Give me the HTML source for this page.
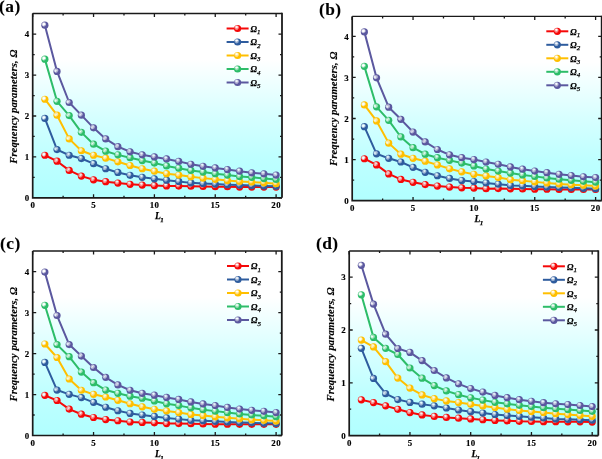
<!DOCTYPE html>
<html><head><meta charset="utf-8"><title>Frequency parameters</title>
<style>
html,body{margin:0;padding:0;background:#fff;width:602px;height:459px;overflow:hidden}
svg{display:block;will-change:transform}
text{font-family:"Liberation Serif", serif;fill:#000;stroke:#000;stroke-width:0.25px}
.tl{font-size:8.9px;font-weight:bold;letter-spacing:0.4px;stroke-width:0.15px}
.at{font-size:10.7px;font-weight:bold;font-style:italic;stroke-width:0.15px;letter-spacing:0.07px}
.xt{font-size:9.5px;font-weight:bold;font-style:italic}
.sub{font-size:7px}
.pl{font-size:17.4px;font-weight:bold;stroke-width:0.1px;letter-spacing:0.45px}
.lg{font-size:8.7px;font-weight:bold;font-style:italic}
.lsub{font-size:7px;font-weight:normal;stroke-width:0.25px}
</style></head>
<body>
<svg width="602" height="459" viewBox="0 0 602 459">
<defs>
<linearGradient id="bg" x1="0" y1="0" x2="0" y2="1">
<stop offset="0" stop-color="#ffffff"/>
<stop offset="0.25" stop-color="#ffffff"/>
<stop offset="0.55" stop-color="#d7ffff"/>
<stop offset="0.78" stop-color="#beffff"/>
<stop offset="1" stop-color="#b1ffff"/>
</linearGradient>
<radialGradient id="gr" cx="0.37" cy="0.38" r="0.36" fx="0.37" fy="0.38"><stop offset="0" stop-color="#ffffff" stop-opacity="0.95"/><stop offset="0.35" stop-color="#ffffff" stop-opacity="0.6"/><stop offset="1" stop-color="#f50808"/><stop offset="1" stop-color="#f50808"/></radialGradient>
<radialGradient id="gb" cx="0.37" cy="0.38" r="0.36" fx="0.37" fy="0.38"><stop offset="0" stop-color="#ffffff" stop-opacity="0.95"/><stop offset="0.35" stop-color="#ffffff" stop-opacity="0.6"/><stop offset="1" stop-color="#2e5c9e"/><stop offset="1" stop-color="#2e5c9e"/></radialGradient>
<radialGradient id="gy" cx="0.37" cy="0.38" r="0.36" fx="0.37" fy="0.38"><stop offset="0" stop-color="#ffffff" stop-opacity="0.95"/><stop offset="0.35" stop-color="#ffffff" stop-opacity="0.6"/><stop offset="1" stop-color="#ffbf00"/><stop offset="1" stop-color="#ffbf00"/></radialGradient>
<radialGradient id="gg" cx="0.37" cy="0.38" r="0.36" fx="0.37" fy="0.38"><stop offset="0" stop-color="#ffffff" stop-opacity="0.95"/><stop offset="0.35" stop-color="#ffffff" stop-opacity="0.6"/><stop offset="1" stop-color="#2dbd69"/><stop offset="1" stop-color="#2dbd69"/></radialGradient>
<radialGradient id="gp" cx="0.37" cy="0.38" r="0.36" fx="0.37" fy="0.38"><stop offset="0" stop-color="#ffffff" stop-opacity="0.95"/><stop offset="0.35" stop-color="#ffffff" stop-opacity="0.6"/><stop offset="1" stop-color="#5b589f"/><stop offset="1" stop-color="#5b589f"/></radialGradient>
</defs>
<rect width="602" height="459" fill="#ffffff"/>
<rect x="32.7" y="13.5" width="249.3" height="184.3" fill="url(#bg)"/>
<path d="M44.87,155.26 L57.04,161.19 L69.21,170.4 L81.38,176.12 L93.55,179.8 L105.72,181.64 L117.89,183.08 L130.06,184.3 L142.23,185.12 L154.4,185.53 L166.57,185.94 L178.74,186.06 L190.91,186.27 L203.08,186.47 L215.25,186.68 L227.42,186.68 L239.59,187.08 L251.76,187.08 L263.93,187.08 L276.1,187.08" fill="none" stroke="#f50808" stroke-width="2" stroke-linejoin="round"/>
<circle cx="44.87" cy="155.26" r="3.6" fill="url(#gr)"/>
<circle cx="57.04" cy="161.19" r="3.6" fill="url(#gr)"/>
<circle cx="69.21" cy="170.4" r="3.6" fill="url(#gr)"/>
<circle cx="81.38" cy="176.12" r="3.6" fill="url(#gr)"/>
<circle cx="93.55" cy="179.8" r="3.6" fill="url(#gr)"/>
<circle cx="105.72" cy="181.64" r="3.6" fill="url(#gr)"/>
<circle cx="117.89" cy="183.08" r="3.6" fill="url(#gr)"/>
<circle cx="130.06" cy="184.3" r="3.6" fill="url(#gr)"/>
<circle cx="142.23" cy="185.12" r="3.6" fill="url(#gr)"/>
<circle cx="154.4" cy="185.53" r="3.6" fill="url(#gr)"/>
<circle cx="166.57" cy="185.94" r="3.6" fill="url(#gr)"/>
<circle cx="178.74" cy="186.06" r="3.6" fill="url(#gr)"/>
<circle cx="190.91" cy="186.27" r="3.6" fill="url(#gr)"/>
<circle cx="203.08" cy="186.47" r="3.6" fill="url(#gr)"/>
<circle cx="215.25" cy="186.68" r="3.6" fill="url(#gr)"/>
<circle cx="227.42" cy="186.68" r="3.6" fill="url(#gr)"/>
<circle cx="239.59" cy="187.08" r="3.6" fill="url(#gr)"/>
<circle cx="251.76" cy="187.08" r="3.6" fill="url(#gr)"/>
<circle cx="263.93" cy="187.08" r="3.6" fill="url(#gr)"/>
<circle cx="276.1" cy="187.08" r="3.6" fill="url(#gr)"/>
<path d="M44.87,118.45 L57.04,149.54 L69.21,155.26 L81.38,158.54 L93.55,163.65 L105.72,168.76 L117.89,172.44 L130.06,175.31 L142.23,177.35 L154.4,178.78 L166.57,180.21 L178.74,181.44 L190.91,182.87 L203.08,183.49 L215.25,184.1 L227.42,184.71 L239.59,185.12 L251.76,185.53 L263.93,185.94 L276.1,186.14" fill="none" stroke="#2e5c9e" stroke-width="2" stroke-linejoin="round"/>
<circle cx="44.87" cy="118.45" r="3.6" fill="url(#gb)"/>
<circle cx="57.04" cy="149.54" r="3.6" fill="url(#gb)"/>
<circle cx="69.21" cy="155.26" r="3.6" fill="url(#gb)"/>
<circle cx="81.38" cy="158.54" r="3.6" fill="url(#gb)"/>
<circle cx="93.55" cy="163.65" r="3.6" fill="url(#gb)"/>
<circle cx="105.72" cy="168.76" r="3.6" fill="url(#gb)"/>
<circle cx="117.89" cy="172.44" r="3.6" fill="url(#gb)"/>
<circle cx="130.06" cy="175.31" r="3.6" fill="url(#gb)"/>
<circle cx="142.23" cy="177.35" r="3.6" fill="url(#gb)"/>
<circle cx="154.4" cy="178.78" r="3.6" fill="url(#gb)"/>
<circle cx="166.57" cy="180.21" r="3.6" fill="url(#gb)"/>
<circle cx="178.74" cy="181.44" r="3.6" fill="url(#gb)"/>
<circle cx="190.91" cy="182.87" r="3.6" fill="url(#gb)"/>
<circle cx="203.08" cy="183.49" r="3.6" fill="url(#gb)"/>
<circle cx="215.25" cy="184.1" r="3.6" fill="url(#gb)"/>
<circle cx="227.42" cy="184.71" r="3.6" fill="url(#gb)"/>
<circle cx="239.59" cy="185.12" r="3.6" fill="url(#gb)"/>
<circle cx="251.76" cy="185.53" r="3.6" fill="url(#gb)"/>
<circle cx="263.93" cy="185.94" r="3.6" fill="url(#gb)"/>
<circle cx="276.1" cy="186.14" r="3.6" fill="url(#gb)"/>
<path d="M44.87,99.23 L57.04,115.18 L69.21,138.9 L81.38,150.77 L93.55,155.26 L105.72,158.13 L117.89,161.81 L130.06,165.49 L142.23,168.76 L154.4,171.22 L166.57,173.67 L178.74,175.1 L190.91,176.74 L203.08,178.13 L215.25,179.35 L227.42,180.58 L239.59,181.4 L251.76,182.01 L263.93,182.83 L276.1,183.65" fill="none" stroke="#ffbf00" stroke-width="2" stroke-linejoin="round"/>
<circle cx="44.87" cy="99.23" r="3.6" fill="url(#gy)"/>
<circle cx="57.04" cy="115.18" r="3.6" fill="url(#gy)"/>
<circle cx="69.21" cy="138.9" r="3.6" fill="url(#gy)"/>
<circle cx="81.38" cy="150.77" r="3.6" fill="url(#gy)"/>
<circle cx="93.55" cy="155.26" r="3.6" fill="url(#gy)"/>
<circle cx="105.72" cy="158.13" r="3.6" fill="url(#gy)"/>
<circle cx="117.89" cy="161.81" r="3.6" fill="url(#gy)"/>
<circle cx="130.06" cy="165.49" r="3.6" fill="url(#gy)"/>
<circle cx="142.23" cy="168.76" r="3.6" fill="url(#gy)"/>
<circle cx="154.4" cy="171.22" r="3.6" fill="url(#gy)"/>
<circle cx="166.57" cy="173.67" r="3.6" fill="url(#gy)"/>
<circle cx="178.74" cy="175.1" r="3.6" fill="url(#gy)"/>
<circle cx="190.91" cy="176.74" r="3.6" fill="url(#gy)"/>
<circle cx="203.08" cy="178.13" r="3.6" fill="url(#gy)"/>
<circle cx="215.25" cy="179.35" r="3.6" fill="url(#gy)"/>
<circle cx="227.42" cy="180.58" r="3.6" fill="url(#gy)"/>
<circle cx="239.59" cy="181.4" r="3.6" fill="url(#gy)"/>
<circle cx="251.76" cy="182.01" r="3.6" fill="url(#gy)"/>
<circle cx="263.93" cy="182.83" r="3.6" fill="url(#gy)"/>
<circle cx="276.1" cy="183.65" r="3.6" fill="url(#gy)"/>
<path d="M44.87,59.15 L57.04,101.28 L69.21,115.59 L81.38,132.36 L93.55,144.22 L105.72,151.17 L117.89,154.86 L130.06,157.72 L142.23,160.58 L154.4,163.04 L166.57,165.9 L178.74,168.15 L190.91,170.4 L203.08,172.03 L215.25,173.67 L227.42,175.1 L239.59,176.53 L251.76,177.35 L263.93,178.58 L276.1,179.4" fill="none" stroke="#2dbd69" stroke-width="2" stroke-linejoin="round"/>
<circle cx="44.87" cy="59.15" r="3.6" fill="url(#gg)"/>
<circle cx="57.04" cy="101.28" r="3.6" fill="url(#gg)"/>
<circle cx="69.21" cy="115.59" r="3.6" fill="url(#gg)"/>
<circle cx="81.38" cy="132.36" r="3.6" fill="url(#gg)"/>
<circle cx="93.55" cy="144.22" r="3.6" fill="url(#gg)"/>
<circle cx="105.72" cy="151.17" r="3.6" fill="url(#gg)"/>
<circle cx="117.89" cy="154.86" r="3.6" fill="url(#gg)"/>
<circle cx="130.06" cy="157.72" r="3.6" fill="url(#gg)"/>
<circle cx="142.23" cy="160.58" r="3.6" fill="url(#gg)"/>
<circle cx="154.4" cy="163.04" r="3.6" fill="url(#gg)"/>
<circle cx="166.57" cy="165.9" r="3.6" fill="url(#gg)"/>
<circle cx="178.74" cy="168.15" r="3.6" fill="url(#gg)"/>
<circle cx="190.91" cy="170.4" r="3.6" fill="url(#gg)"/>
<circle cx="203.08" cy="172.03" r="3.6" fill="url(#gg)"/>
<circle cx="215.25" cy="173.67" r="3.6" fill="url(#gg)"/>
<circle cx="227.42" cy="175.1" r="3.6" fill="url(#gg)"/>
<circle cx="239.59" cy="176.53" r="3.6" fill="url(#gg)"/>
<circle cx="251.76" cy="177.35" r="3.6" fill="url(#gg)"/>
<circle cx="263.93" cy="178.58" r="3.6" fill="url(#gg)"/>
<circle cx="276.1" cy="179.4" r="3.6" fill="url(#gg)"/>
<path d="M44.87,25.2 L57.04,71.42 L69.21,102.5 L81.38,115.18 L93.55,127.86 L105.72,138.9 L117.89,146.68 L130.06,151.79 L142.23,154.86 L154.4,156.9 L166.57,158.95 L178.74,161.4 L190.91,164.26 L203.08,166.31 L215.25,167.94 L227.42,169.58 L239.59,171.22 L251.76,172.85 L263.93,173.87 L276.1,175.1" fill="none" stroke="#5b589f" stroke-width="2" stroke-linejoin="round"/>
<circle cx="44.87" cy="25.2" r="3.6" fill="url(#gp)"/>
<circle cx="57.04" cy="71.42" r="3.6" fill="url(#gp)"/>
<circle cx="69.21" cy="102.5" r="3.6" fill="url(#gp)"/>
<circle cx="81.38" cy="115.18" r="3.6" fill="url(#gp)"/>
<circle cx="93.55" cy="127.86" r="3.6" fill="url(#gp)"/>
<circle cx="105.72" cy="138.9" r="3.6" fill="url(#gp)"/>
<circle cx="117.89" cy="146.68" r="3.6" fill="url(#gp)"/>
<circle cx="130.06" cy="151.79" r="3.6" fill="url(#gp)"/>
<circle cx="142.23" cy="154.86" r="3.6" fill="url(#gp)"/>
<circle cx="154.4" cy="156.9" r="3.6" fill="url(#gp)"/>
<circle cx="166.57" cy="158.95" r="3.6" fill="url(#gp)"/>
<circle cx="178.74" cy="161.4" r="3.6" fill="url(#gp)"/>
<circle cx="190.91" cy="164.26" r="3.6" fill="url(#gp)"/>
<circle cx="203.08" cy="166.31" r="3.6" fill="url(#gp)"/>
<circle cx="215.25" cy="167.94" r="3.6" fill="url(#gp)"/>
<circle cx="227.42" cy="169.58" r="3.6" fill="url(#gp)"/>
<circle cx="239.59" cy="171.22" r="3.6" fill="url(#gp)"/>
<circle cx="251.76" cy="172.85" r="3.6" fill="url(#gp)"/>
<circle cx="263.93" cy="173.87" r="3.6" fill="url(#gp)"/>
<circle cx="276.1" cy="175.1" r="3.6" fill="url(#gp)"/>
<path d="M32.7,13.5 H282" fill="none" stroke="#1a1a1a" stroke-width="1.4"/>
<path d="M282,12.8 V197.8" fill="none" stroke="#1a1a1a" stroke-width="1.8"/>
<path d="M32.7,13.5 V197.8 H282" fill="none" stroke="#1a1a1a" stroke-width="1.7"/>
<path d="M32.7,13.5 v3.5 M63.12,197.8 v-2.0 M63.12,13.5 v2.0 M93.55,197.8 v-3.5 M93.55,13.5 v3.5 M123.98,197.8 v-2.0 M123.98,13.5 v2.0 M154.4,197.8 v-3.5 M154.4,13.5 v3.5 M184.82,197.8 v-2.0 M184.82,13.5 v2.0 M215.25,197.8 v-3.5 M215.25,13.5 v3.5 M245.68,197.8 v-2.0 M245.68,13.5 v2.0 M276.1,197.8 v-3.5 M276.1,13.5 v3.5 M282,197.8 h-3.5 M32.7,177.35 h2.0 M282,177.35 h-2.0 M32.7,156.9 h3.5 M282,156.9 h-3.5 M32.7,136.45 h2.0 M282,136.45 h-2.0 M32.7,116 h3.5 M282,116 h-3.5 M32.7,95.55 h2.0 M282,95.55 h-2.0 M32.7,75.1 h3.5 M282,75.1 h-3.5 M32.7,54.65 h2.0 M282,54.65 h-2.0 M32.7,34.2 h3.5 M282,34.2 h-3.5" stroke="#1a1a1a" stroke-width="1.3" fill="none"/>
<text x="32.8" y="208.2" class="tl" text-anchor="middle">0</text>
<text x="93.65" y="208.2" class="tl" text-anchor="middle">5</text>
<text x="154.5" y="208.2" class="tl" text-anchor="middle">10</text>
<text x="215.35" y="208.2" class="tl" text-anchor="middle">15</text>
<text x="276.2" y="208.2" class="tl" text-anchor="middle">20</text>
<text x="29.1" y="201" class="tl" text-anchor="end" style="letter-spacing:0">0</text>
<text x="29.1" y="160.1" class="tl" text-anchor="end" style="letter-spacing:0">1</text>
<text x="29.1" y="119.2" class="tl" text-anchor="end" style="letter-spacing:0">2</text>
<text x="29.1" y="78.3" class="tl" text-anchor="end" style="letter-spacing:0">3</text>
<text x="29.1" y="37.4" class="tl" text-anchor="end" style="letter-spacing:0">4</text>
<text x="159.4" y="218.6" class="xt" text-anchor="middle">L<tspan class="sub" dx="-0.7" dy="3.2">1</tspan></text>
<text transform="translate(17.2,106.65) rotate(-90)" class="at" text-anchor="middle">Frequency parameters, Ω</text>
<text x="-1" y="12" class="pl">(a)</text>
<path d="M226.6,28.5 h22" stroke="#f50808" stroke-width="2"/>
<circle cx="237.6" cy="28.5" r="3.6" fill="url(#gr)"/>
<text x="250.6" y="31.8" class="lg">Ω<tspan class="lsub" dy="2.3">1</tspan></text>
<path d="M226.6,42 h22" stroke="#2e5c9e" stroke-width="2"/>
<circle cx="237.6" cy="42" r="3.6" fill="url(#gb)"/>
<text x="250.6" y="45.3" class="lg">Ω<tspan class="lsub" dy="2.3">2</tspan></text>
<path d="M226.6,55.5 h22" stroke="#ffbf00" stroke-width="2"/>
<circle cx="237.6" cy="55.5" r="3.6" fill="url(#gy)"/>
<text x="250.6" y="58.8" class="lg">Ω<tspan class="lsub" dy="2.3">3</tspan></text>
<path d="M226.6,69 h22" stroke="#2dbd69" stroke-width="2"/>
<circle cx="237.6" cy="69" r="3.6" fill="url(#gg)"/>
<text x="250.6" y="72.3" class="lg">Ω<tspan class="lsub" dy="2.3">4</tspan></text>
<path d="M226.6,82.5 h22" stroke="#5b589f" stroke-width="2"/>
<circle cx="237.6" cy="82.5" r="3.6" fill="url(#gp)"/>
<text x="250.6" y="85.8" class="lg">Ω<tspan class="lsub" dy="2.3">5</tspan></text>
<rect x="352.2" y="16.4" width="249.5" height="184.2" fill="url(#bg)"/>
<path d="M364.37,158.73 L376.54,164.89 L388.71,173.92 L400.88,179.46 L413.05,182.33 L425.22,184.59 L437.39,186.03 L449.56,187.05 L461.73,187.87 L473.9,188.08 L486.07,188.7 L498.24,188.61 L510.41,188.82 L522.58,189.02 L534.75,189.23 L546.92,189.23 L559.09,189.43 L571.26,189.43 L583.43,189.43 L595.6,189.43" fill="none" stroke="#f50808" stroke-width="2" stroke-linejoin="round"/>
<circle cx="364.37" cy="158.73" r="3.6" fill="url(#gr)"/>
<circle cx="376.54" cy="164.89" r="3.6" fill="url(#gr)"/>
<circle cx="388.71" cy="173.92" r="3.6" fill="url(#gr)"/>
<circle cx="400.88" cy="179.46" r="3.6" fill="url(#gr)"/>
<circle cx="413.05" cy="182.33" r="3.6" fill="url(#gr)"/>
<circle cx="425.22" cy="184.59" r="3.6" fill="url(#gr)"/>
<circle cx="437.39" cy="186.03" r="3.6" fill="url(#gr)"/>
<circle cx="449.56" cy="187.05" r="3.6" fill="url(#gr)"/>
<circle cx="461.73" cy="187.87" r="3.6" fill="url(#gr)"/>
<circle cx="473.9" cy="188.08" r="3.6" fill="url(#gr)"/>
<circle cx="486.07" cy="188.7" r="3.6" fill="url(#gr)"/>
<circle cx="498.24" cy="188.61" r="3.6" fill="url(#gr)"/>
<circle cx="510.41" cy="188.82" r="3.6" fill="url(#gr)"/>
<circle cx="522.58" cy="189.02" r="3.6" fill="url(#gr)"/>
<circle cx="534.75" cy="189.23" r="3.6" fill="url(#gr)"/>
<circle cx="546.92" cy="189.23" r="3.6" fill="url(#gr)"/>
<circle cx="559.09" cy="189.43" r="3.6" fill="url(#gr)"/>
<circle cx="571.26" cy="189.43" r="3.6" fill="url(#gr)"/>
<circle cx="583.43" cy="189.43" r="3.6" fill="url(#gr)"/>
<circle cx="595.6" cy="189.43" r="3.6" fill="url(#gr)"/>
<path d="M364.37,126.71 L376.54,153.8 L388.71,158.32 L400.88,162.01 L413.05,167.35 L425.22,172.28 L437.39,175.76 L449.56,178.43 L461.73,180.49 L473.9,181.51 L486.07,182.95 L498.24,184.18 L510.41,185.41 L522.58,185.82 L534.75,186.44 L546.92,187.05 L559.09,187.46 L571.26,187.87 L583.43,188.28 L595.6,188.7" fill="none" stroke="#2e5c9e" stroke-width="2" stroke-linejoin="round"/>
<circle cx="364.37" cy="126.71" r="3.6" fill="url(#gb)"/>
<circle cx="376.54" cy="153.8" r="3.6" fill="url(#gb)"/>
<circle cx="388.71" cy="158.32" r="3.6" fill="url(#gb)"/>
<circle cx="400.88" cy="162.01" r="3.6" fill="url(#gb)"/>
<circle cx="413.05" cy="167.35" r="3.6" fill="url(#gb)"/>
<circle cx="425.22" cy="172.28" r="3.6" fill="url(#gb)"/>
<circle cx="437.39" cy="175.76" r="3.6" fill="url(#gb)"/>
<circle cx="449.56" cy="178.43" r="3.6" fill="url(#gb)"/>
<circle cx="461.73" cy="180.49" r="3.6" fill="url(#gb)"/>
<circle cx="473.9" cy="181.51" r="3.6" fill="url(#gb)"/>
<circle cx="486.07" cy="182.95" r="3.6" fill="url(#gb)"/>
<circle cx="498.24" cy="184.18" r="3.6" fill="url(#gb)"/>
<circle cx="510.41" cy="185.41" r="3.6" fill="url(#gb)"/>
<circle cx="522.58" cy="185.82" r="3.6" fill="url(#gb)"/>
<circle cx="534.75" cy="186.44" r="3.6" fill="url(#gb)"/>
<circle cx="546.92" cy="187.05" r="3.6" fill="url(#gb)"/>
<circle cx="559.09" cy="187.46" r="3.6" fill="url(#gb)"/>
<circle cx="571.26" cy="187.87" r="3.6" fill="url(#gb)"/>
<circle cx="583.43" cy="188.28" r="3.6" fill="url(#gb)"/>
<circle cx="595.6" cy="188.7" r="3.6" fill="url(#gb)"/>
<path d="M364.37,104.95 L376.54,120.96 L388.71,143.13 L400.88,154.21 L413.05,158.32 L425.22,161.19 L437.39,164.89 L449.56,168.79 L461.73,171.87 L473.9,174.33 L486.07,175.97 L498.24,177.61 L510.41,179.66 L522.58,180.65 L534.75,181.88 L546.92,182.91 L559.09,183.93 L571.26,184.75 L583.43,185.17 L595.6,185.99" fill="none" stroke="#ffbf00" stroke-width="2" stroke-linejoin="round"/>
<circle cx="364.37" cy="104.95" r="3.6" fill="url(#gy)"/>
<circle cx="376.54" cy="120.96" r="3.6" fill="url(#gy)"/>
<circle cx="388.71" cy="143.13" r="3.6" fill="url(#gy)"/>
<circle cx="400.88" cy="154.21" r="3.6" fill="url(#gy)"/>
<circle cx="413.05" cy="158.32" r="3.6" fill="url(#gy)"/>
<circle cx="425.22" cy="161.19" r="3.6" fill="url(#gy)"/>
<circle cx="437.39" cy="164.89" r="3.6" fill="url(#gy)"/>
<circle cx="449.56" cy="168.79" r="3.6" fill="url(#gy)"/>
<circle cx="461.73" cy="171.87" r="3.6" fill="url(#gy)"/>
<circle cx="473.9" cy="174.33" r="3.6" fill="url(#gy)"/>
<circle cx="486.07" cy="175.97" r="3.6" fill="url(#gy)"/>
<circle cx="498.24" cy="177.61" r="3.6" fill="url(#gy)"/>
<circle cx="510.41" cy="179.66" r="3.6" fill="url(#gy)"/>
<circle cx="522.58" cy="180.65" r="3.6" fill="url(#gy)"/>
<circle cx="534.75" cy="181.88" r="3.6" fill="url(#gy)"/>
<circle cx="546.92" cy="182.91" r="3.6" fill="url(#gy)"/>
<circle cx="559.09" cy="183.93" r="3.6" fill="url(#gy)"/>
<circle cx="571.26" cy="184.75" r="3.6" fill="url(#gy)"/>
<circle cx="583.43" cy="185.17" r="3.6" fill="url(#gy)"/>
<circle cx="595.6" cy="185.99" r="3.6" fill="url(#gy)"/>
<path d="M364.37,66.37 L376.54,106.8 L388.71,120.35 L400.88,136.97 L413.05,147.65 L425.22,154.21 L437.39,157.7 L449.56,160.37 L461.73,163.04 L473.9,165.91 L486.07,168.99 L498.24,171.04 L510.41,173.1 L522.58,174.94 L534.75,176.38 L546.92,178.02 L559.09,179.25 L571.26,180.28 L583.43,181.31 L595.6,182.13" fill="none" stroke="#2dbd69" stroke-width="2" stroke-linejoin="round"/>
<circle cx="364.37" cy="66.37" r="3.6" fill="url(#gg)"/>
<circle cx="376.54" cy="106.8" r="3.6" fill="url(#gg)"/>
<circle cx="388.71" cy="120.35" r="3.6" fill="url(#gg)"/>
<circle cx="400.88" cy="136.97" r="3.6" fill="url(#gg)"/>
<circle cx="413.05" cy="147.65" r="3.6" fill="url(#gg)"/>
<circle cx="425.22" cy="154.21" r="3.6" fill="url(#gg)"/>
<circle cx="437.39" cy="157.7" r="3.6" fill="url(#gg)"/>
<circle cx="449.56" cy="160.37" r="3.6" fill="url(#gg)"/>
<circle cx="461.73" cy="163.04" r="3.6" fill="url(#gg)"/>
<circle cx="473.9" cy="165.91" r="3.6" fill="url(#gg)"/>
<circle cx="486.07" cy="168.99" r="3.6" fill="url(#gg)"/>
<circle cx="498.24" cy="171.04" r="3.6" fill="url(#gg)"/>
<circle cx="510.41" cy="173.1" r="3.6" fill="url(#gg)"/>
<circle cx="522.58" cy="174.94" r="3.6" fill="url(#gg)"/>
<circle cx="534.75" cy="176.38" r="3.6" fill="url(#gg)"/>
<circle cx="546.92" cy="178.02" r="3.6" fill="url(#gg)"/>
<circle cx="559.09" cy="179.25" r="3.6" fill="url(#gg)"/>
<circle cx="571.26" cy="180.28" r="3.6" fill="url(#gg)"/>
<circle cx="583.43" cy="181.31" r="3.6" fill="url(#gg)"/>
<circle cx="595.6" cy="182.13" r="3.6" fill="url(#gg)"/>
<path d="M364.37,31.88 L376.54,77.86 L388.71,107.21 L400.88,119.32 L413.05,132.05 L425.22,141.9 L437.39,149.49 L449.56,154.83 L461.73,157.7 L473.9,159.55 L486.07,162.01 L498.24,164.27 L510.41,166.94 L522.58,169.2 L534.75,171.04 L546.92,172.69 L559.09,174.33 L571.26,175.56 L583.43,176.79 L595.6,177.61" fill="none" stroke="#5b589f" stroke-width="2" stroke-linejoin="round"/>
<circle cx="364.37" cy="31.88" r="3.6" fill="url(#gp)"/>
<circle cx="376.54" cy="77.86" r="3.6" fill="url(#gp)"/>
<circle cx="388.71" cy="107.21" r="3.6" fill="url(#gp)"/>
<circle cx="400.88" cy="119.32" r="3.6" fill="url(#gp)"/>
<circle cx="413.05" cy="132.05" r="3.6" fill="url(#gp)"/>
<circle cx="425.22" cy="141.9" r="3.6" fill="url(#gp)"/>
<circle cx="437.39" cy="149.49" r="3.6" fill="url(#gp)"/>
<circle cx="449.56" cy="154.83" r="3.6" fill="url(#gp)"/>
<circle cx="461.73" cy="157.7" r="3.6" fill="url(#gp)"/>
<circle cx="473.9" cy="159.55" r="3.6" fill="url(#gp)"/>
<circle cx="486.07" cy="162.01" r="3.6" fill="url(#gp)"/>
<circle cx="498.24" cy="164.27" r="3.6" fill="url(#gp)"/>
<circle cx="510.41" cy="166.94" r="3.6" fill="url(#gp)"/>
<circle cx="522.58" cy="169.2" r="3.6" fill="url(#gp)"/>
<circle cx="534.75" cy="171.04" r="3.6" fill="url(#gp)"/>
<circle cx="546.92" cy="172.69" r="3.6" fill="url(#gp)"/>
<circle cx="559.09" cy="174.33" r="3.6" fill="url(#gp)"/>
<circle cx="571.26" cy="175.56" r="3.6" fill="url(#gp)"/>
<circle cx="583.43" cy="176.79" r="3.6" fill="url(#gp)"/>
<circle cx="595.6" cy="177.61" r="3.6" fill="url(#gp)"/>
<path d="M352.2,16.4 H601.7" fill="none" stroke="#1a1a1a" stroke-width="1.4"/>
<path d="M601.7,15.7 V200.6" fill="none" stroke="#1a1a1a" stroke-width="1.8"/>
<path d="M352.2,16.4 V200.6 H601.7" fill="none" stroke="#1a1a1a" stroke-width="1.7"/>
<path d="M352.2,16.4 v3.5 M382.62,200.6 v-2.0 M382.62,16.4 v2.0 M413.05,200.6 v-3.5 M413.05,16.4 v3.5 M443.48,200.6 v-2.0 M443.48,16.4 v2.0 M473.9,200.6 v-3.5 M473.9,16.4 v3.5 M504.32,200.6 v-2.0 M504.32,16.4 v2.0 M534.75,200.6 v-3.5 M534.75,16.4 v3.5 M565.17,200.6 v-2.0 M565.17,16.4 v2.0 M595.6,200.6 v-3.5 M595.6,16.4 v3.5 M601.7,200.6 h-3.5 M352.2,180.07 h2.0 M601.7,180.07 h-2.0 M352.2,159.55 h3.5 M601.7,159.55 h-3.5 M352.2,139.03 h2.0 M601.7,139.03 h-2.0 M352.2,118.5 h3.5 M601.7,118.5 h-3.5 M352.2,97.97 h2.0 M601.7,97.97 h-2.0 M352.2,77.45 h3.5 M601.7,77.45 h-3.5 M352.2,56.93 h2.0 M601.7,56.93 h-2.0 M352.2,36.4 h3.5 M601.7,36.4 h-3.5" stroke="#1a1a1a" stroke-width="1.3" fill="none"/>
<text x="352.3" y="211" class="tl" text-anchor="middle">0</text>
<text x="413.15" y="211" class="tl" text-anchor="middle">5</text>
<text x="474" y="211" class="tl" text-anchor="middle">10</text>
<text x="534.85" y="211" class="tl" text-anchor="middle">15</text>
<text x="595.7" y="211" class="tl" text-anchor="middle">20</text>
<text x="348.6" y="203.8" class="tl" text-anchor="end" style="letter-spacing:0">0</text>
<text x="348.6" y="162.75" class="tl" text-anchor="end" style="letter-spacing:0">1</text>
<text x="348.6" y="121.7" class="tl" text-anchor="end" style="letter-spacing:0">2</text>
<text x="348.6" y="80.65" class="tl" text-anchor="end" style="letter-spacing:0">3</text>
<text x="348.6" y="39.6" class="tl" text-anchor="end" style="letter-spacing:0">4</text>
<text x="478.9" y="222" class="xt" text-anchor="middle">L<tspan class="sub" dx="-0.7" dy="3.2">1</tspan></text>
<text transform="translate(336.7,108.7) rotate(-90)" class="at" text-anchor="middle">Frequency parameters, Ω</text>
<text x="319" y="14.6" class="pl">(b)</text>
<path d="M546.3,31.3 h22" stroke="#f50808" stroke-width="2"/>
<circle cx="557.3" cy="31.3" r="3.6" fill="url(#gr)"/>
<text x="570.3" y="34.6" class="lg">Ω<tspan class="lsub" dy="2.3">1</tspan></text>
<path d="M546.3,44.8 h22" stroke="#2e5c9e" stroke-width="2"/>
<circle cx="557.3" cy="44.8" r="3.6" fill="url(#gb)"/>
<text x="570.3" y="48.1" class="lg">Ω<tspan class="lsub" dy="2.3">2</tspan></text>
<path d="M546.3,58.3 h22" stroke="#ffbf00" stroke-width="2"/>
<circle cx="557.3" cy="58.3" r="3.6" fill="url(#gy)"/>
<text x="570.3" y="61.6" class="lg">Ω<tspan class="lsub" dy="2.3">3</tspan></text>
<path d="M546.3,71.8 h22" stroke="#2dbd69" stroke-width="2"/>
<circle cx="557.3" cy="71.8" r="3.6" fill="url(#gg)"/>
<text x="570.3" y="75.1" class="lg">Ω<tspan class="lsub" dy="2.3">4</tspan></text>
<path d="M546.3,85.3 h22" stroke="#5b589f" stroke-width="2"/>
<circle cx="557.3" cy="85.3" r="3.6" fill="url(#gp)"/>
<text x="570.3" y="88.6" class="lg">Ω<tspan class="lsub" dy="2.3">5</tspan></text>
<rect x="32.7" y="251" width="249.1" height="184.5" fill="url(#bg)"/>
<path d="M44.87,395.37 L57.04,400.49 L69.21,409.09 L81.38,414.21 L93.55,417.48 L105.72,419.53 L117.89,420.76 L130.06,421.99 L142.23,422.4 L154.4,422.81 L166.57,423.62 L178.74,423.54 L190.91,423.75 L203.08,423.95 L215.25,424.16 L227.42,424.16 L239.59,424.36 L251.76,424.36 L263.93,424.36 L276.1,424.36" fill="none" stroke="#f50808" stroke-width="2" stroke-linejoin="round"/>
<circle cx="44.87" cy="395.37" r="3.6" fill="url(#gr)"/>
<circle cx="57.04" cy="400.49" r="3.6" fill="url(#gr)"/>
<circle cx="69.21" cy="409.09" r="3.6" fill="url(#gr)"/>
<circle cx="81.38" cy="414.21" r="3.6" fill="url(#gr)"/>
<circle cx="93.55" cy="417.48" r="3.6" fill="url(#gr)"/>
<circle cx="105.72" cy="419.53" r="3.6" fill="url(#gr)"/>
<circle cx="117.89" cy="420.76" r="3.6" fill="url(#gr)"/>
<circle cx="130.06" cy="421.99" r="3.6" fill="url(#gr)"/>
<circle cx="142.23" cy="422.4" r="3.6" fill="url(#gr)"/>
<circle cx="154.4" cy="422.81" r="3.6" fill="url(#gr)"/>
<circle cx="166.57" cy="423.62" r="3.6" fill="url(#gr)"/>
<circle cx="178.74" cy="423.54" r="3.6" fill="url(#gr)"/>
<circle cx="190.91" cy="423.75" r="3.6" fill="url(#gr)"/>
<circle cx="203.08" cy="423.95" r="3.6" fill="url(#gr)"/>
<circle cx="215.25" cy="424.16" r="3.6" fill="url(#gr)"/>
<circle cx="227.42" cy="424.16" r="3.6" fill="url(#gr)"/>
<circle cx="239.59" cy="424.36" r="3.6" fill="url(#gr)"/>
<circle cx="251.76" cy="424.36" r="3.6" fill="url(#gr)"/>
<circle cx="263.93" cy="424.36" r="3.6" fill="url(#gr)"/>
<circle cx="276.1" cy="424.36" r="3.6" fill="url(#gr)"/>
<path d="M44.87,362.4 L57.04,390.05 L69.21,394.35 L81.38,397.62 L93.55,402.33 L105.72,407.24 L117.89,410.73 L130.06,413.39 L142.23,415.02 L154.4,416.46 L166.57,417.89 L178.74,419.12 L190.91,420.35 L203.08,420.76 L215.25,421.37 L227.42,421.99 L239.59,422.4 L251.76,422.81 L263.93,423.21 L276.1,423.62" fill="none" stroke="#2e5c9e" stroke-width="2" stroke-linejoin="round"/>
<circle cx="44.87" cy="362.4" r="3.6" fill="url(#gb)"/>
<circle cx="57.04" cy="390.05" r="3.6" fill="url(#gb)"/>
<circle cx="69.21" cy="394.35" r="3.6" fill="url(#gb)"/>
<circle cx="81.38" cy="397.62" r="3.6" fill="url(#gb)"/>
<circle cx="93.55" cy="402.33" r="3.6" fill="url(#gb)"/>
<circle cx="105.72" cy="407.24" r="3.6" fill="url(#gb)"/>
<circle cx="117.89" cy="410.73" r="3.6" fill="url(#gb)"/>
<circle cx="130.06" cy="413.39" r="3.6" fill="url(#gb)"/>
<circle cx="142.23" cy="415.02" r="3.6" fill="url(#gb)"/>
<circle cx="154.4" cy="416.46" r="3.6" fill="url(#gb)"/>
<circle cx="166.57" cy="417.89" r="3.6" fill="url(#gb)"/>
<circle cx="178.74" cy="419.12" r="3.6" fill="url(#gb)"/>
<circle cx="190.91" cy="420.35" r="3.6" fill="url(#gb)"/>
<circle cx="203.08" cy="420.76" r="3.6" fill="url(#gb)"/>
<circle cx="215.25" cy="421.37" r="3.6" fill="url(#gb)"/>
<circle cx="227.42" cy="421.99" r="3.6" fill="url(#gb)"/>
<circle cx="239.59" cy="422.4" r="3.6" fill="url(#gb)"/>
<circle cx="251.76" cy="422.81" r="3.6" fill="url(#gb)"/>
<circle cx="263.93" cy="423.21" r="3.6" fill="url(#gb)"/>
<circle cx="276.1" cy="423.62" r="3.6" fill="url(#gb)"/>
<path d="M44.87,343.98 L57.04,357.49 L69.21,378.99 L81.38,390.25 L93.55,394.35 L105.72,397.01 L117.89,400.28 L130.06,403.76 L142.23,406.83 L154.4,409.29 L166.57,410.93 L178.74,412.57 L190.91,414.41 L203.08,415.6 L215.25,416.83 L227.42,417.85 L239.59,418.67 L251.76,419.69 L263.93,420.31 L276.1,420.92" fill="none" stroke="#ffbf00" stroke-width="2" stroke-linejoin="round"/>
<circle cx="44.87" cy="343.98" r="3.6" fill="url(#gy)"/>
<circle cx="57.04" cy="357.49" r="3.6" fill="url(#gy)"/>
<circle cx="69.21" cy="378.99" r="3.6" fill="url(#gy)"/>
<circle cx="81.38" cy="390.25" r="3.6" fill="url(#gy)"/>
<circle cx="93.55" cy="394.35" r="3.6" fill="url(#gy)"/>
<circle cx="105.72" cy="397.01" r="3.6" fill="url(#gy)"/>
<circle cx="117.89" cy="400.28" r="3.6" fill="url(#gy)"/>
<circle cx="130.06" cy="403.76" r="3.6" fill="url(#gy)"/>
<circle cx="142.23" cy="406.83" r="3.6" fill="url(#gy)"/>
<circle cx="154.4" cy="409.29" r="3.6" fill="url(#gy)"/>
<circle cx="166.57" cy="410.93" r="3.6" fill="url(#gy)"/>
<circle cx="178.74" cy="412.57" r="3.6" fill="url(#gy)"/>
<circle cx="190.91" cy="414.41" r="3.6" fill="url(#gy)"/>
<circle cx="203.08" cy="415.6" r="3.6" fill="url(#gy)"/>
<circle cx="215.25" cy="416.83" r="3.6" fill="url(#gy)"/>
<circle cx="227.42" cy="417.85" r="3.6" fill="url(#gy)"/>
<circle cx="239.59" cy="418.67" r="3.6" fill="url(#gy)"/>
<circle cx="251.76" cy="419.69" r="3.6" fill="url(#gy)"/>
<circle cx="263.93" cy="420.31" r="3.6" fill="url(#gy)"/>
<circle cx="276.1" cy="420.92" r="3.6" fill="url(#gy)"/>
<path d="M44.87,305.28 L57.04,344.59 L69.21,356.67 L81.38,372.03 L93.55,382.67 L105.72,390.05 L117.89,393.32 L130.06,396.19 L142.23,398.24 L154.4,400.9 L166.57,403.76 L178.74,405.61 L190.91,407.86 L203.08,409.7 L215.25,411.13 L227.42,412.57 L239.59,414 L251.76,415.02 L263.93,415.84 L276.1,416.66" fill="none" stroke="#2dbd69" stroke-width="2" stroke-linejoin="round"/>
<circle cx="44.87" cy="305.28" r="3.6" fill="url(#gg)"/>
<circle cx="57.04" cy="344.59" r="3.6" fill="url(#gg)"/>
<circle cx="69.21" cy="356.67" r="3.6" fill="url(#gg)"/>
<circle cx="81.38" cy="372.03" r="3.6" fill="url(#gg)"/>
<circle cx="93.55" cy="382.67" r="3.6" fill="url(#gg)"/>
<circle cx="105.72" cy="390.05" r="3.6" fill="url(#gg)"/>
<circle cx="117.89" cy="393.32" r="3.6" fill="url(#gg)"/>
<circle cx="130.06" cy="396.19" r="3.6" fill="url(#gg)"/>
<circle cx="142.23" cy="398.24" r="3.6" fill="url(#gg)"/>
<circle cx="154.4" cy="400.9" r="3.6" fill="url(#gg)"/>
<circle cx="166.57" cy="403.76" r="3.6" fill="url(#gg)"/>
<circle cx="178.74" cy="405.61" r="3.6" fill="url(#gg)"/>
<circle cx="190.91" cy="407.86" r="3.6" fill="url(#gg)"/>
<circle cx="203.08" cy="409.7" r="3.6" fill="url(#gg)"/>
<circle cx="215.25" cy="411.13" r="3.6" fill="url(#gg)"/>
<circle cx="227.42" cy="412.57" r="3.6" fill="url(#gg)"/>
<circle cx="239.59" cy="414" r="3.6" fill="url(#gg)"/>
<circle cx="251.76" cy="415.02" r="3.6" fill="url(#gg)"/>
<circle cx="263.93" cy="415.84" r="3.6" fill="url(#gg)"/>
<circle cx="276.1" cy="416.66" r="3.6" fill="url(#gg)"/>
<path d="M44.87,272.11 L57.04,315.52 L69.21,344.59 L81.38,356.06 L93.55,367.52 L105.72,377.35 L117.89,384.93 L130.06,390.25 L142.23,393.32 L154.4,395.16 L166.57,397.42 L178.74,399.46 L190.91,401.92 L203.08,403.97 L215.25,405.61 L227.42,407.45 L239.59,409.09 L251.76,410.32 L263.93,411.34 L276.1,412.57" fill="none" stroke="#5b589f" stroke-width="2" stroke-linejoin="round"/>
<circle cx="44.87" cy="272.11" r="3.6" fill="url(#gp)"/>
<circle cx="57.04" cy="315.52" r="3.6" fill="url(#gp)"/>
<circle cx="69.21" cy="344.59" r="3.6" fill="url(#gp)"/>
<circle cx="81.38" cy="356.06" r="3.6" fill="url(#gp)"/>
<circle cx="93.55" cy="367.52" r="3.6" fill="url(#gp)"/>
<circle cx="105.72" cy="377.35" r="3.6" fill="url(#gp)"/>
<circle cx="117.89" cy="384.93" r="3.6" fill="url(#gp)"/>
<circle cx="130.06" cy="390.25" r="3.6" fill="url(#gp)"/>
<circle cx="142.23" cy="393.32" r="3.6" fill="url(#gp)"/>
<circle cx="154.4" cy="395.16" r="3.6" fill="url(#gp)"/>
<circle cx="166.57" cy="397.42" r="3.6" fill="url(#gp)"/>
<circle cx="178.74" cy="399.46" r="3.6" fill="url(#gp)"/>
<circle cx="190.91" cy="401.92" r="3.6" fill="url(#gp)"/>
<circle cx="203.08" cy="403.97" r="3.6" fill="url(#gp)"/>
<circle cx="215.25" cy="405.61" r="3.6" fill="url(#gp)"/>
<circle cx="227.42" cy="407.45" r="3.6" fill="url(#gp)"/>
<circle cx="239.59" cy="409.09" r="3.6" fill="url(#gp)"/>
<circle cx="251.76" cy="410.32" r="3.6" fill="url(#gp)"/>
<circle cx="263.93" cy="411.34" r="3.6" fill="url(#gp)"/>
<circle cx="276.1" cy="412.57" r="3.6" fill="url(#gp)"/>
<path d="M32.7,251 H281.8" fill="none" stroke="#1a1a1a" stroke-width="1.4"/>
<path d="M281.8,250.3 V435.5" fill="none" stroke="#1a1a1a" stroke-width="1.8"/>
<path d="M32.7,251 V435.5 H281.8" fill="none" stroke="#1a1a1a" stroke-width="1.7"/>
<path d="M32.7,251 v3.5 M63.12,435.5 v-2.0 M63.12,251 v2.0 M93.55,435.5 v-3.5 M93.55,251 v3.5 M123.98,435.5 v-2.0 M123.98,251 v2.0 M154.4,435.5 v-3.5 M154.4,251 v3.5 M184.82,435.5 v-2.0 M184.82,251 v2.0 M215.25,435.5 v-3.5 M215.25,251 v3.5 M245.68,435.5 v-2.0 M245.68,251 v2.0 M276.1,435.5 v-3.5 M276.1,251 v3.5 M281.8,435.5 h-3.5 M32.7,415.02 h2.0 M281.8,415.02 h-2.0 M32.7,394.55 h3.5 M281.8,394.55 h-3.5 M32.7,374.07 h2.0 M281.8,374.07 h-2.0 M32.7,353.6 h3.5 M281.8,353.6 h-3.5 M32.7,333.12 h2.0 M281.8,333.12 h-2.0 M32.7,312.65 h3.5 M281.8,312.65 h-3.5 M32.7,292.17 h2.0 M281.8,292.17 h-2.0 M32.7,271.7 h3.5 M281.8,271.7 h-3.5" stroke="#1a1a1a" stroke-width="1.3" fill="none"/>
<text x="32.8" y="445.9" class="tl" text-anchor="middle">0</text>
<text x="93.65" y="445.9" class="tl" text-anchor="middle">5</text>
<text x="154.5" y="445.9" class="tl" text-anchor="middle">10</text>
<text x="215.35" y="445.9" class="tl" text-anchor="middle">15</text>
<text x="276.2" y="445.9" class="tl" text-anchor="middle">20</text>
<text x="29.1" y="438.7" class="tl" text-anchor="end" style="letter-spacing:0">0</text>
<text x="29.1" y="397.75" class="tl" text-anchor="end" style="letter-spacing:0">1</text>
<text x="29.1" y="356.8" class="tl" text-anchor="end" style="letter-spacing:0">2</text>
<text x="29.1" y="315.85" class="tl" text-anchor="end" style="letter-spacing:0">3</text>
<text x="29.1" y="274.9" class="tl" text-anchor="end" style="letter-spacing:0">4</text>
<text x="159.4" y="456.5" class="xt" text-anchor="middle">L<tspan class="sub" dx="-0.7" dy="3.2">1</tspan></text>
<text transform="translate(17.2,344.25) rotate(-90)" class="at" text-anchor="middle">Frequency parameters, Ω</text>
<text x="0" y="248.9" class="pl">(c)</text>
<path d="M227,266 h22" stroke="#f50808" stroke-width="2"/>
<circle cx="238" cy="266" r="3.6" fill="url(#gr)"/>
<text x="251" y="269.3" class="lg">Ω<tspan class="lsub" dy="2.3">1</tspan></text>
<path d="M227,279.5 h22" stroke="#2e5c9e" stroke-width="2"/>
<circle cx="238" cy="279.5" r="3.6" fill="url(#gb)"/>
<text x="251" y="282.8" class="lg">Ω<tspan class="lsub" dy="2.3">2</tspan></text>
<path d="M227,293 h22" stroke="#ffbf00" stroke-width="2"/>
<circle cx="238" cy="293" r="3.6" fill="url(#gy)"/>
<text x="251" y="296.3" class="lg">Ω<tspan class="lsub" dy="2.3">3</tspan></text>
<path d="M227,306.5 h22" stroke="#2dbd69" stroke-width="2"/>
<circle cx="238" cy="306.5" r="3.6" fill="url(#gg)"/>
<text x="251" y="309.8" class="lg">Ω<tspan class="lsub" dy="2.3">4</tspan></text>
<path d="M227,320 h22" stroke="#5b589f" stroke-width="2"/>
<circle cx="238" cy="320" r="3.6" fill="url(#gp)"/>
<text x="251" y="323.3" class="lg">Ω<tspan class="lsub" dy="2.3">5</tspan></text>
<rect x="349.2" y="251" width="249.1" height="184.6" fill="url(#bg)"/>
<path d="M361.35,399.8 L373.5,402.6 L385.65,405.87 L397.8,409.31 L409.95,412.58 L422.1,414.9 L434.25,416.38 L446.4,417.38 L458.55,418.18 L470.7,418.92 L482.85,419.76 L495,420.39 L507.15,420.82 L519.3,421.34 L531.45,421.5 L543.6,421.71 L555.75,421.71 L567.9,421.87 L580.05,421.87 L592.2,422.03" fill="none" stroke="#f50808" stroke-width="2" stroke-linejoin="round"/>
<circle cx="361.35" cy="399.8" r="3.6" fill="url(#gr)"/>
<circle cx="373.5" cy="402.6" r="3.6" fill="url(#gr)"/>
<circle cx="385.65" cy="405.87" r="3.6" fill="url(#gr)"/>
<circle cx="397.8" cy="409.31" r="3.6" fill="url(#gr)"/>
<circle cx="409.95" cy="412.58" r="3.6" fill="url(#gr)"/>
<circle cx="422.1" cy="414.9" r="3.6" fill="url(#gr)"/>
<circle cx="434.25" cy="416.38" r="3.6" fill="url(#gr)"/>
<circle cx="446.4" cy="417.38" r="3.6" fill="url(#gr)"/>
<circle cx="458.55" cy="418.18" r="3.6" fill="url(#gr)"/>
<circle cx="470.7" cy="418.92" r="3.6" fill="url(#gr)"/>
<circle cx="482.85" cy="419.76" r="3.6" fill="url(#gr)"/>
<circle cx="495" cy="420.39" r="3.6" fill="url(#gr)"/>
<circle cx="507.15" cy="420.82" r="3.6" fill="url(#gr)"/>
<circle cx="519.3" cy="421.34" r="3.6" fill="url(#gr)"/>
<circle cx="531.45" cy="421.5" r="3.6" fill="url(#gr)"/>
<circle cx="543.6" cy="421.71" r="3.6" fill="url(#gr)"/>
<circle cx="555.75" cy="421.71" r="3.6" fill="url(#gr)"/>
<circle cx="567.9" cy="421.87" r="3.6" fill="url(#gr)"/>
<circle cx="580.05" cy="421.87" r="3.6" fill="url(#gr)"/>
<circle cx="592.2" cy="422.03" r="3.6" fill="url(#gr)"/>
<path d="M361.35,348.32 L373.5,378.42 L385.65,393.68 L397.8,399.59 L409.95,402.39 L422.1,404.18 L434.25,405.87 L446.4,407.99 L458.55,409.99 L470.7,411.68 L482.85,413.11 L495,414.48 L507.15,415.54 L519.3,416.33 L531.45,417.23 L543.6,418.02 L555.75,418.92 L567.9,419.28 L580.05,419.76 L592.2,420.18" fill="none" stroke="#2e5c9e" stroke-width="2" stroke-linejoin="round"/>
<circle cx="361.35" cy="348.32" r="3.6" fill="url(#gb)"/>
<circle cx="373.5" cy="378.42" r="3.6" fill="url(#gb)"/>
<circle cx="385.65" cy="393.68" r="3.6" fill="url(#gb)"/>
<circle cx="397.8" cy="399.59" r="3.6" fill="url(#gb)"/>
<circle cx="409.95" cy="402.39" r="3.6" fill="url(#gb)"/>
<circle cx="422.1" cy="404.18" r="3.6" fill="url(#gb)"/>
<circle cx="434.25" cy="405.87" r="3.6" fill="url(#gb)"/>
<circle cx="446.4" cy="407.99" r="3.6" fill="url(#gb)"/>
<circle cx="458.55" cy="409.99" r="3.6" fill="url(#gb)"/>
<circle cx="470.7" cy="411.68" r="3.6" fill="url(#gb)"/>
<circle cx="482.85" cy="413.11" r="3.6" fill="url(#gb)"/>
<circle cx="495" cy="414.48" r="3.6" fill="url(#gb)"/>
<circle cx="507.15" cy="415.54" r="3.6" fill="url(#gb)"/>
<circle cx="519.3" cy="416.33" r="3.6" fill="url(#gb)"/>
<circle cx="531.45" cy="417.23" r="3.6" fill="url(#gb)"/>
<circle cx="543.6" cy="418.02" r="3.6" fill="url(#gb)"/>
<circle cx="555.75" cy="418.92" r="3.6" fill="url(#gb)"/>
<circle cx="567.9" cy="419.28" r="3.6" fill="url(#gb)"/>
<circle cx="580.05" cy="419.76" r="3.6" fill="url(#gb)"/>
<circle cx="592.2" cy="420.18" r="3.6" fill="url(#gb)"/>
<path d="M361.35,340.03 L373.5,346.9 L385.65,361.68 L397.8,378.05 L409.95,388.08 L422.1,394.94 L434.25,398.64 L446.4,400.91 L458.55,402.6 L470.7,404.34 L482.85,405.93 L495,407.4 L507.15,409.2 L519.3,410.52 L531.45,411.58 L543.6,412.58 L555.75,413.69 L567.9,414.59 L580.05,415.38 L592.2,416.28" fill="none" stroke="#ffbf00" stroke-width="2" stroke-linejoin="round"/>
<circle cx="361.35" cy="340.03" r="3.6" fill="url(#gy)"/>
<circle cx="373.5" cy="346.9" r="3.6" fill="url(#gy)"/>
<circle cx="385.65" cy="361.68" r="3.6" fill="url(#gy)"/>
<circle cx="397.8" cy="378.05" r="3.6" fill="url(#gy)"/>
<circle cx="409.95" cy="388.08" r="3.6" fill="url(#gy)"/>
<circle cx="422.1" cy="394.94" r="3.6" fill="url(#gy)"/>
<circle cx="434.25" cy="398.64" r="3.6" fill="url(#gy)"/>
<circle cx="446.4" cy="400.91" r="3.6" fill="url(#gy)"/>
<circle cx="458.55" cy="402.6" r="3.6" fill="url(#gy)"/>
<circle cx="470.7" cy="404.34" r="3.6" fill="url(#gy)"/>
<circle cx="482.85" cy="405.93" r="3.6" fill="url(#gy)"/>
<circle cx="495" cy="407.4" r="3.6" fill="url(#gy)"/>
<circle cx="507.15" cy="409.2" r="3.6" fill="url(#gy)"/>
<circle cx="519.3" cy="410.52" r="3.6" fill="url(#gy)"/>
<circle cx="531.45" cy="411.58" r="3.6" fill="url(#gy)"/>
<circle cx="543.6" cy="412.58" r="3.6" fill="url(#gy)"/>
<circle cx="555.75" cy="413.69" r="3.6" fill="url(#gy)"/>
<circle cx="567.9" cy="414.59" r="3.6" fill="url(#gy)"/>
<circle cx="580.05" cy="415.38" r="3.6" fill="url(#gy)"/>
<circle cx="592.2" cy="416.28" r="3.6" fill="url(#gy)"/>
<path d="M361.35,294.78 L373.5,337.39 L385.65,348.32 L397.8,354.5 L409.95,368.02 L422.1,378.21 L434.25,385.6 L446.4,390.88 L458.55,394.68 L470.7,397.85 L482.85,400.12 L495,402.28 L507.15,403.81 L519.3,405.29 L531.45,406.61 L543.6,407.72 L555.75,408.72 L567.9,409.62 L580.05,410.52 L592.2,411.31" fill="none" stroke="#2dbd69" stroke-width="2" stroke-linejoin="round"/>
<circle cx="361.35" cy="294.78" r="3.6" fill="url(#gg)"/>
<circle cx="373.5" cy="337.39" r="3.6" fill="url(#gg)"/>
<circle cx="385.65" cy="348.32" r="3.6" fill="url(#gg)"/>
<circle cx="397.8" cy="354.5" r="3.6" fill="url(#gg)"/>
<circle cx="409.95" cy="368.02" r="3.6" fill="url(#gg)"/>
<circle cx="422.1" cy="378.21" r="3.6" fill="url(#gg)"/>
<circle cx="434.25" cy="385.6" r="3.6" fill="url(#gg)"/>
<circle cx="446.4" cy="390.88" r="3.6" fill="url(#gg)"/>
<circle cx="458.55" cy="394.68" r="3.6" fill="url(#gg)"/>
<circle cx="470.7" cy="397.85" r="3.6" fill="url(#gg)"/>
<circle cx="482.85" cy="400.12" r="3.6" fill="url(#gg)"/>
<circle cx="495" cy="402.28" r="3.6" fill="url(#gg)"/>
<circle cx="507.15" cy="403.81" r="3.6" fill="url(#gg)"/>
<circle cx="519.3" cy="405.29" r="3.6" fill="url(#gg)"/>
<circle cx="531.45" cy="406.61" r="3.6" fill="url(#gg)"/>
<circle cx="543.6" cy="407.72" r="3.6" fill="url(#gg)"/>
<circle cx="555.75" cy="408.72" r="3.6" fill="url(#gg)"/>
<circle cx="567.9" cy="409.62" r="3.6" fill="url(#gg)"/>
<circle cx="580.05" cy="410.52" r="3.6" fill="url(#gg)"/>
<circle cx="592.2" cy="411.31" r="3.6" fill="url(#gg)"/>
<path d="M361.35,265.32 L373.5,304.13 L385.65,334.22 L397.8,348.48 L409.95,352.39 L422.1,360.62 L434.25,370.5 L446.4,377.89 L458.55,383.86 L470.7,388.56 L482.85,392.09 L495,395.42 L507.15,397.69 L519.3,399.7 L531.45,401.23 L543.6,402.71 L555.75,403.81 L567.9,404.61 L580.05,405.5 L592.2,406.61" fill="none" stroke="#5b589f" stroke-width="2" stroke-linejoin="round"/>
<circle cx="361.35" cy="265.32" r="3.6" fill="url(#gp)"/>
<circle cx="373.5" cy="304.13" r="3.6" fill="url(#gp)"/>
<circle cx="385.65" cy="334.22" r="3.6" fill="url(#gp)"/>
<circle cx="397.8" cy="348.48" r="3.6" fill="url(#gp)"/>
<circle cx="409.95" cy="352.39" r="3.6" fill="url(#gp)"/>
<circle cx="422.1" cy="360.62" r="3.6" fill="url(#gp)"/>
<circle cx="434.25" cy="370.5" r="3.6" fill="url(#gp)"/>
<circle cx="446.4" cy="377.89" r="3.6" fill="url(#gp)"/>
<circle cx="458.55" cy="383.86" r="3.6" fill="url(#gp)"/>
<circle cx="470.7" cy="388.56" r="3.6" fill="url(#gp)"/>
<circle cx="482.85" cy="392.09" r="3.6" fill="url(#gp)"/>
<circle cx="495" cy="395.42" r="3.6" fill="url(#gp)"/>
<circle cx="507.15" cy="397.69" r="3.6" fill="url(#gp)"/>
<circle cx="519.3" cy="399.7" r="3.6" fill="url(#gp)"/>
<circle cx="531.45" cy="401.23" r="3.6" fill="url(#gp)"/>
<circle cx="543.6" cy="402.71" r="3.6" fill="url(#gp)"/>
<circle cx="555.75" cy="403.81" r="3.6" fill="url(#gp)"/>
<circle cx="567.9" cy="404.61" r="3.6" fill="url(#gp)"/>
<circle cx="580.05" cy="405.5" r="3.6" fill="url(#gp)"/>
<circle cx="592.2" cy="406.61" r="3.6" fill="url(#gp)"/>
<path d="M349.2,251 H598.3" fill="none" stroke="#1a1a1a" stroke-width="1.4"/>
<path d="M598.3,250.3 V435.6" fill="none" stroke="#1a1a1a" stroke-width="1.8"/>
<path d="M349.2,251 V435.6 H598.3" fill="none" stroke="#1a1a1a" stroke-width="1.7"/>
<path d="M349.2,251 v3.5 M379.57,435.6 v-2.0 M379.57,251 v2.0 M409.95,435.6 v-3.5 M409.95,251 v3.5 M440.32,435.6 v-2.0 M440.32,251 v2.0 M470.7,435.6 v-3.5 M470.7,251 v3.5 M501.07,435.6 v-2.0 M501.07,251 v2.0 M531.45,435.6 v-3.5 M531.45,251 v3.5 M561.83,435.6 v-2.0 M561.83,251 v2.0 M592.2,435.6 v-3.5 M592.2,251 v3.5 M598.3,435.6 h-3.5 M349.2,409.2 h2.0 M598.3,409.2 h-2.0 M349.2,382.8 h3.5 M598.3,382.8 h-3.5 M349.2,356.4 h2.0 M598.3,356.4 h-2.0 M349.2,330 h3.5 M598.3,330 h-3.5 M349.2,303.6 h2.0 M598.3,303.6 h-2.0 M349.2,277.2 h3.5 M598.3,277.2 h-3.5" stroke="#1a1a1a" stroke-width="1.3" fill="none"/>
<text x="349.3" y="446" class="tl" text-anchor="middle">0</text>
<text x="410.05" y="446" class="tl" text-anchor="middle">5</text>
<text x="470.8" y="446" class="tl" text-anchor="middle">10</text>
<text x="531.55" y="446" class="tl" text-anchor="middle">15</text>
<text x="592.3" y="446" class="tl" text-anchor="middle">20</text>
<text x="345.6" y="438.8" class="tl" text-anchor="end" style="letter-spacing:0">0</text>
<text x="345.6" y="386" class="tl" text-anchor="end" style="letter-spacing:0">1</text>
<text x="345.6" y="333.2" class="tl" text-anchor="end" style="letter-spacing:0">2</text>
<text x="345.6" y="280.4" class="tl" text-anchor="end" style="letter-spacing:0">3</text>
<text x="475.7" y="457" class="xt" text-anchor="middle">L<tspan class="sub" dx="-0.7" dy="3.2">1</tspan></text>
<text transform="translate(334.2,344.3) rotate(-90)" class="at" text-anchor="middle">Frequency parameters, Ω</text>
<text x="316" y="249.2" class="pl">(d)</text>
<path d="M542.9,266.3 h22" stroke="#f50808" stroke-width="2"/>
<circle cx="553.9" cy="266.3" r="3.6" fill="url(#gr)"/>
<text x="566.9" y="269.6" class="lg">Ω<tspan class="lsub" dy="2.3">1</tspan></text>
<path d="M542.9,279.8 h22" stroke="#2e5c9e" stroke-width="2"/>
<circle cx="553.9" cy="279.8" r="3.6" fill="url(#gb)"/>
<text x="566.9" y="283.1" class="lg">Ω<tspan class="lsub" dy="2.3">2</tspan></text>
<path d="M542.9,293.3 h22" stroke="#ffbf00" stroke-width="2"/>
<circle cx="553.9" cy="293.3" r="3.6" fill="url(#gy)"/>
<text x="566.9" y="296.6" class="lg">Ω<tspan class="lsub" dy="2.3">3</tspan></text>
<path d="M542.9,306.8 h22" stroke="#2dbd69" stroke-width="2"/>
<circle cx="553.9" cy="306.8" r="3.6" fill="url(#gg)"/>
<text x="566.9" y="310.1" class="lg">Ω<tspan class="lsub" dy="2.3">4</tspan></text>
<path d="M542.9,320.3 h22" stroke="#5b589f" stroke-width="2"/>
<circle cx="553.9" cy="320.3" r="3.6" fill="url(#gp)"/>
<text x="566.9" y="323.6" class="lg">Ω<tspan class="lsub" dy="2.3">5</tspan></text>
</svg>
</body></html>
